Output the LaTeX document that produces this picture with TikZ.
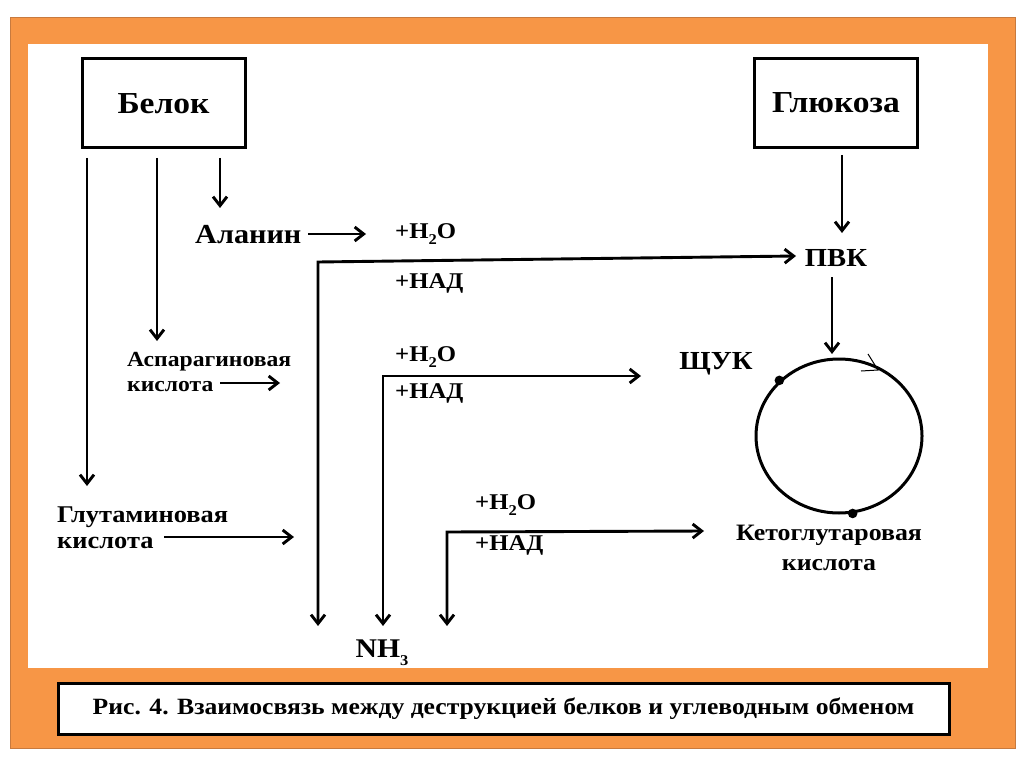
\documentclass[tikz,border=0pt]{standalone}
\usepackage{fontspec}
\setmainfont[FakeStretch=1.1]{Liberation Serif}
\usetikzlibrary{arrows.meta,shapes.geometric}
\definecolor{frameor}{HTML}{F79646}
\definecolor{frameedge}{HTML}{C87A3E}
\newcommand{\fs}[2]{\fontsize{#1}{#2}\selectfont}
\newcommand{\sbs}[1]{\raisebox{-0.28em}{\fontsize{15}{15}\selectfont #1}}
\tikzset{
  barb/.tip={Straight Barb[length=9pt,width=14pt,line width=2.9pt]},
  arr/.style={line width=2.9pt,-barb},
  darr/.style={line width=2.9pt,barb-barb},
  lbl/.style={inner sep=0pt,anchor=west,font=\bfseries\fs{22.5}{24}},
  lblc/.style={inner sep=0pt,font=\bfseries\fs{26}{28}},
  two/.style={inner sep=0pt,align=left,anchor=west},
  bigbox/.style={draw,line width=3pt,minimum width=163pt,minimum height=89pt,inner sep=0pt,font=\bfseries\fs{30.5}{32}},
}
\begin{document}
\begin{tikzpicture}[x=1pt,y=-1pt]
\useasboundingbox (0,0) rectangle (1024,767);
\fill[white] (0,0) rectangle (1024,767);
% frame
\fill[frameor,draw=frameedge,line width=1pt] (10,18) rectangle (1015,748);
\fill[white] (28,44) rectangle (988,668);
% caption
\node[draw,fill=white,line width=3pt,minimum width=891pt,minimum height=51pt,inner sep=0pt,
      font=\bfseries\fs{23.3}{25}] (cap) at (503.5,709)
      {Рис. 4. Взаимосвязь между деструкцией белков и углеводным обменом};
% boxes
\node[bigbox] (belok) at (163.5,103.5) {Белок};
\node[bigbox] (gluc) at (836,103) {Глюкоза};
% labels
\node[lbl,font=\bfseries\fs{27.5}{28}] (ala) at (195,235) {Аланин};
\node[lbl] (h1) at (395,234) {+H\sbs{2}O};
\node[lbl] (d1) at (395,283) {+НАД};
\node[lbl] (h2) at (395,357) {+H\sbs{2}O};
\node[lbl] (d2) at (395,393) {+НАД};
\node[lbl] (h3) at (475,505) {+H\sbs{2}O};
\node[lbl] (d3) at (475,545) {+НАД};
\node[lblc] (pvk) at (836,258) {ПВК};
\node[lblc] (shuk) at (716,364) {ЩУК};
\node[lblc,font=\bfseries\fs{27}{28}] (nh) at (382,653) {NH\sbs{3}};
\node[two,font=\bfseries\fs{21.5}{25}] (asp) at (127,372) {Аспарагиновая\\кислота};
\node[two,font=\bfseries\fs{24}{26}] (glu) at (57,528) {Глутаминовая\\кислота};
\node[two,align=center,anchor=center,font=\bfseries\fs{23.5}{30}] (keto) at (829,548) {Кетоглутаровая\\кислота};
% cycle
\node[draw,ellipse,line width=3pt,minimum width=166pt,minimum height=154pt,inner sep=0pt] (cyc) at (839,436) {};
\fill (cyc.137) circle (4.8pt);
\fill (cyc.-80) circle (4.8pt);
\coordinate (m1) at (868,354);
\coordinate (m2) at (878,370);
\coordinate (m3) at (861,371);
\draw[line width=1pt] (m1) -- (m2) -- (m3);
% coordinates
\coordinate (b1) at (87,158);   \coordinate (b1e) at (87,486);
\coordinate (b2) at (157,158);  \coordinate (b2e) at (157,341);
\coordinate (b3) at (220,158);  \coordinate (b3e) at (220,208);
\coordinate (a1) at (308,234);  \coordinate (a1e) at (366,234);
\coordinate (a2) at (220,383);  \coordinate (a2e) at (280,383);
\coordinate (a3) at (164,537);  \coordinate (a3e) at (294,537);
\coordinate (g1) at (842,155);  \coordinate (g1e) at (842,233);
\coordinate (p1) at (832,277);  \coordinate (p1e) at (832,354);
\coordinate (n1) at (318,626);  \coordinate (c1) at (318,262);  \coordinate (e1) at (796,256);
\coordinate (n2) at (383,626);  \coordinate (c2) at (383,376);  \coordinate (e2) at (641,376);
\coordinate (n3) at (447,626);  \coordinate (c3) at (447,532);  \coordinate (e3) at (704,531);
% arrows
\draw[arr] (b1) -- (b1e);
\draw[arr] (b2) -- (b2e);
\draw[arr] (b3) -- (b3e);
\draw[arr] (a1) -- (a1e);
\draw[arr] (a2) -- (a2e);
\draw[arr] (a3) -- (a3e);
\draw[arr] (g1) -- (g1e);
\draw[arr] (p1) -- (p1e);
\draw[darr] (n1) -- (c1) -- (e1);
\draw[darr] (n2) -- (c2) -- (e2);
\draw[darr] (n3) -- (c3) -- (e3);
\end{tikzpicture}
\end{document}
